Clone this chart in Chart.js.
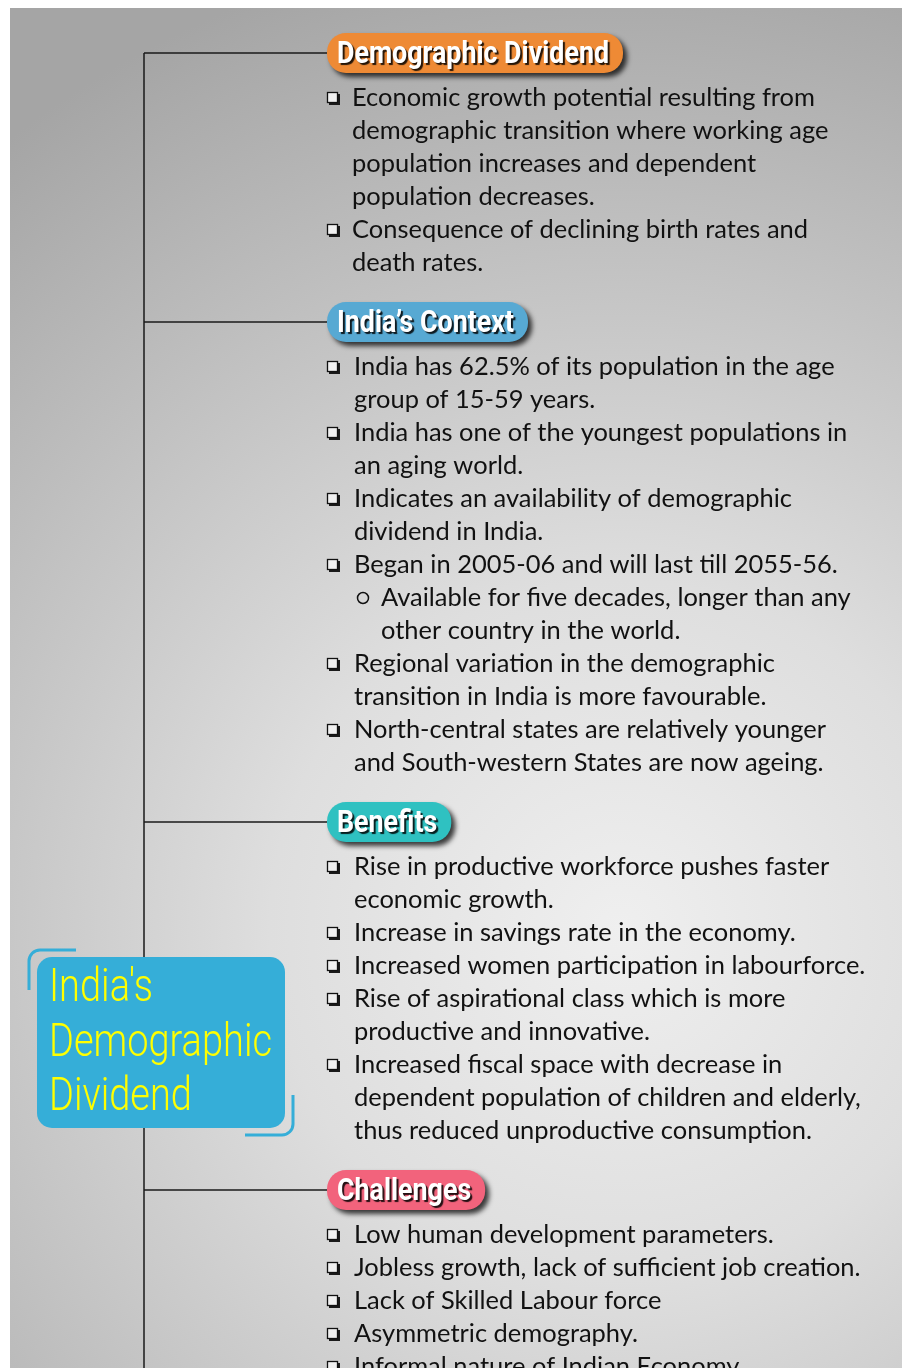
<!DOCTYPE html>
<html><head><meta charset="utf-8">
<script src="https://cdn.jsdelivr.net/npm/chart.js@4.4.1/dist/chart.umd.min.js"></script>
<style>html,body{margin:0;padding:0;background:#fff}canvas{display:block}</style>
</head><body>
<canvas id="c" width="902" height="1368"></canvas>
<script>
// ---- content ----
const centreTitle = ["India's", 'Demographic', 'Dividend'];
const sectionTitles = ['Demographic Dividend', 'India\u2019s Context', 'Benefits', 'Challenges'];
// each item: [level, line1, line2, ...]
const demographicItems = [
  [0, 'Economic growth potential resulting from', 'demographic transition where working age', 'population increases and dependent', 'population decreases.'],
  [0, 'Consequence of declining birth rates and', 'death rates.']
];
const contextItems = [
  [0, 'India has 62.5% of its population in the age', 'group of 15-59 years.'],
  [0, 'India has one of the youngest populations in', 'an aging world.'],
  [0, 'Indicates an availability of demographic', 'dividend in India.'],
  [0, 'Began in 2005-06 and will last till 2055-56.'],
  [1, 'Available for five decades, longer than any', 'other country in the world.'],
  [0, 'Regional variation in the demographic', 'transition in India is more favourable.'],
  [0, 'North-central states are relatively younger', 'and South-western States are now ageing.']
];
const benefitItems = [
  [0, 'Rise in productive workforce pushes faster', 'economic growth.'],
  [0, 'Increase in savings rate in the economy.'],
  [0, 'Increased women participation in labourforce.'],
  [0, 'Rise of aspirational class which is more', 'productive and innovative.'],
  [0, 'Increased fiscal space with decrease in', 'dependent population of children and elderly,', 'thus reduced unproductive consumption.']
];
const challengeItems = [
  [0, 'Low human development parameters.'],
  [0, 'Jobless growth, lack of sufficient job creation.'],
  [0, 'Lack of Skilled Labour force'],
  [0, 'Asymmetric demography.'],
  [0, 'Informal nature of Indian Economy.']
];
const sectionItems = [demographicItems, contextItems, benefitItems, challengeItems];

// ---- styles / layout ----
const sectionColors = ['#ee8a35', '#57a9d3', '#2fc1c1', '#f2637c'];
const W = 902, H = 1368;
const firstHeaderY = 53, headerToText = 44, lineGap = 33, textToHeader = 60;
const trunkX = 144, pillX = 327;

// compute header/line y positions
const headerYs = []; const lineRows = [];
let cy = firstHeaderY;
sectionItems.forEach((items, s) => {
  headerYs.push(cy);
  let y = cy + headerToText;
  items.forEach(it => {
    for (let i = 1; i < it.length; i++) {
      lineRows.push({ y, text: it[i], level: it[0], bullet: i === 1, section: s });
      y += lineGap;
    }
  });
  cy = y - lineGap + textToHeader;
});

// connector datasets built from header positions
const connectorSets = [{ data: [{ x: trunkX, y: headerYs[0] }, { x: trunkX, y: H + 5 }] }]
  .concat(headerYs.map(hy => ({ data: [{ x: trunkX, y: hy }, { x: pillX + 5, y: hy }] })))
  .map(d => Object.assign(d, { showLine: true, pointRadius: 0, borderColor: '#1a1a1a', borderWidth: 1.5, fill: false }));

const BODY_FONT = '"Lato", "Open Sans", sans-serif';
const HEAD_FONT = '"Roboto", "Liberation Sans", sans-serif';

function bgPlugin(chart) {
  const ctx = chart.ctx;
  ctx.save();
  ctx.fillStyle = '#fff'; ctx.fillRect(0, 0, W, H);
  const g = ctx.createRadialGradient(620, 930, 0, 620, 930, 1000);
  g.addColorStop(0, '#efefef');
  g.addColorStop(0.35, '#dedede');
  g.addColorStop(1, '#a5a5a5');
  ctx.fillStyle = g; ctx.fillRect(10, 8, W - 10, H - 8);
  ctx.restore();
}

function roundRect(ctx, x, y, w, h, r) {
  ctx.beginPath();
  ctx.moveTo(x + r, y); ctx.lineTo(x + w - r, y); ctx.arcTo(x + w, y, x + w, y + r, r);
  ctx.lineTo(x + w, y + h - r); ctx.arcTo(x + w, y + h, x + w - r, y + h, r);
  ctx.lineTo(x + r, y + h); ctx.arcTo(x, y + h, x, y + h - r, r);
  ctx.lineTo(x, y + r); ctx.arcTo(x, y, x + r, y, r); ctx.closePath();
}

function drawScaledText(ctx, text, x, y, sx) {
  ctx.save(); ctx.translate(x, y); ctx.scale(sx, 1); ctx.fillText(text, 0, 0); ctx.restore();
}

function overlay(chart) {
  const ctx = chart.ctx, xs = chart.scales.x, ys = chart.scales.y;
  // headers
  ctx.save();
  ctx.font = 'bold 31px ' + HEAD_FONT;
  const hsx = 272 / ctx.measureText(sectionTitles[0]).width;
  headerYs.forEach((hy, i) => {
    const py = ys.getPixelForValue(hy), px = xs.getPixelForValue(pillX);
    const tw = ctx.measureText(sectionTitles[i]).width * hsx;
    const w = tw + 24, h = 40;
    ctx.save();
    ctx.shadowColor = 'rgba(0,0,0,0.75)'; ctx.shadowBlur = 5; ctx.shadowOffsetX = 4; ctx.shadowOffsetY = 4;
    ctx.fillStyle = sectionColors[i];
    roundRect(ctx, px, py - h / 2, w, h, 19); ctx.fill();
    ctx.restore();
    ctx.save();
    ctx.fillStyle = '#fff'; ctx.textBaseline = 'alphabetic';
    ctx.shadowColor = 'rgba(0,0,0,0.85)'; ctx.shadowBlur = 1; ctx.shadowOffsetX = 2; ctx.shadowOffsetY = 2;
    drawScaledText(ctx, sectionTitles[i], px + 10, py + 10, hsx);
    ctx.restore();
  });
  ctx.restore();

  // body text
  ctx.save();
  ctx.font = '25px ' + BODY_FONT;
  const bsx = 463 / ctx.measureText(demographicItems[0][1]).width;
  ctx.fillStyle = '#111'; ctx.textBaseline = 'alphabetic';
  lineRows.forEach(r => {
    const py = ys.getPixelForValue(r.y);
    const tx = xs.getPixelForValue(r.level ? 381 : (r.section === 0 ? 352 : 354));
    ctx.fillStyle = '#111';
    drawScaledText(ctx, r.text, tx, py + 9, bsx);
    if (r.bullet) {
      if (r.level === 0) {
        const bx = xs.getPixelForValue(327), by = py - 5;
        ctx.fillStyle = '#1a1a1a'; ctx.fillRect(bx + 2, by + 2, 11, 11);
        ctx.fillStyle = '#f0f0f0'; ctx.fillRect(bx, by, 11, 11);
        ctx.strokeStyle = '#111'; ctx.lineWidth = 1.3; ctx.strokeRect(bx + 0.5, by + 0.5, 10, 10);
      } else {
        const bx = xs.getPixelForValue(363);
        ctx.beginPath(); ctx.arc(bx, py + 1, 5.5, 0, Math.PI * 2);
        ctx.strokeStyle = '#111'; ctx.lineWidth = 1.5; ctx.stroke();
      }
    }
  });
  ctx.restore();

  // centre box
  ctx.save();
  const bx0 = xs.getPixelForValue(37), by0 = ys.getPixelForValue(957);
  const bx1 = xs.getPixelForValue(285), by1 = ys.getPixelForValue(1128);
  ctx.fillStyle = '#35aed8';
  roundRect(ctx, bx0, by0, bx1 - bx0, by1 - by0, 15); ctx.fill();
  ctx.strokeStyle = '#35aed8'; ctx.lineWidth = 3; ctx.lineCap = 'butt';
  ctx.beginPath(); ctx.moveTo(76, 950); ctx.lineTo(40, 950); ctx.arcTo(29, 950, 29, 961, 11); ctx.lineTo(29, 990); ctx.stroke();
  ctx.beginPath(); ctx.moveTo(293, 1095); ctx.lineTo(293, 1124); ctx.arcTo(293, 1135, 282, 1135, 11); ctx.lineTo(245, 1135); ctx.stroke();
  ctx.font = '300 47px "Roboto", "DejaVu Sans", sans-serif';
  const csx = 223 / ctx.measureText(centreTitle[1]).width;
  ctx.fillStyle = '#ffff00';
  const baselines = [1001, 1056, 1110];
  centreTitle.forEach((t, i) => drawScaledText(ctx, t, xs.getPixelForValue(49), ys.getPixelForValue(baselines[i]), csx));
  ctx.restore();
}

new Chart(document.getElementById('c'), {
  type: 'scatter',
  data: { datasets: connectorSets },
  options: {
    responsive: false, animation: false, devicePixelRatio: 1,
    layout: { padding: 0 },
    plugins: { legend: { display: false }, tooltip: { enabled: false } },
    scales: {
      x: { type: 'linear', min: 0, max: W, display: false },
      y: { type: 'linear', min: 0, max: H, reverse: true, display: false }
    }
  },
  plugins: [{ id: 'bg', beforeDraw: bgPlugin }, { id: 'ov', afterDatasetsDraw: overlay }]
});
</script>
</body></html>
